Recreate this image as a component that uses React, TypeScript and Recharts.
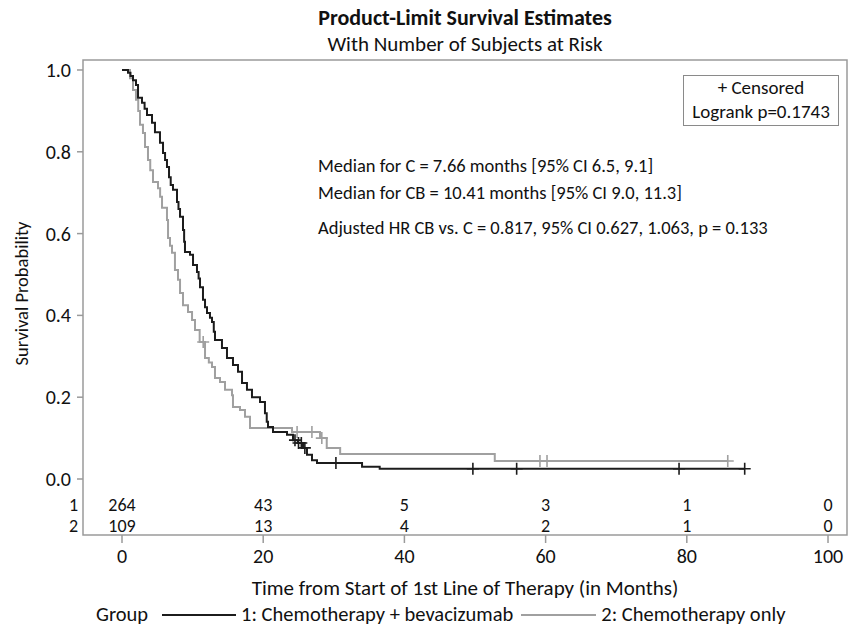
import React from 'react';
import { ComposedChart, Line, Scatter, XAxis, YAxis, ReferenceArea } from 'recharts';

const FONT = "Carlito, 'Liberation Sans Narrow', 'Open Sans', sans-serif";

// Group 1: Chemotherapy + bevacizumab (black)
const cbTimes = [0, 0.85, 1.2, 1.56, 1.98, 2.27, 2.83, 3.2, 3.54, 4.25, 4.67, 5.38, 5.81, 6.1, 6.37, 6.66, 6.9, 7.22, 7.79, 8.0, 8.22, 8.64, 8.8, 8.92, 9.63, 10.06, 10.62, 10.85, 11.05, 11.47, 11.76, 12.04, 12.46, 12.75, 13.0, 13.17, 14.16, 14.87, 15.72, 16.43, 17.0, 17.7, 18.41, 19.55, 20.25, 20.5, 20.68, 21.39, 23.37, 24.22, 24.93, 25.64, 26.2, 26.91, 27.62, 34.0, 36.5, 88.2];
const cbSurv = [1.0, 0.993, 0.985, 0.975, 0.963, 0.932, 0.92, 0.905, 0.89, 0.871, 0.848, 0.822, 0.797, 0.78, 0.763, 0.738, 0.719, 0.707, 0.677, 0.66, 0.641, 0.609, 0.58, 0.555, 0.548, 0.523, 0.506, 0.49, 0.469, 0.438, 0.42, 0.406, 0.394, 0.384, 0.36, 0.34, 0.32, 0.296, 0.279, 0.262, 0.235, 0.218, 0.2, 0.188, 0.161, 0.14, 0.127, 0.115, 0.108, 0.095, 0.088, 0.076, 0.059, 0.046, 0.039, 0.03, 0.025, 0.025];
const cbCensorTimes = [24.5, 25.0, 25.4, 25.9, 30.3, 49.7, 55.9, 78.9, 88.2];
const cbCensorSurv = [0.095, 0.088, 0.088, 0.076, 0.039, 0.025, 0.025, 0.025, 0.025];

// Group 2: Chemotherapy only (gray)
const cTimes = [0, 1.13, 1.56, 1.98, 2.3, 2.55, 2.97, 3.26, 3.68, 4.0, 4.39, 5.1, 5.4, 5.67, 6.37, 6.52, 6.8, 7.08, 7.5, 7.93, 8.22, 8.64, 9.35, 9.92, 10.34, 11.0, 11.76, 12.3, 12.75, 13.17, 13.88, 14.59, 15.58, 15.72, 16.71, 17.42, 18.13, 24.08, 28.05, 29.0, 30.9, 52.8, 85.8];
const cSurv = [1.0, 0.98, 0.951, 0.927, 0.9, 0.866, 0.846, 0.812, 0.78, 0.755, 0.726, 0.711, 0.69, 0.663, 0.633, 0.589, 0.57, 0.553, 0.511, 0.487, 0.455, 0.425, 0.408, 0.389, 0.364, 0.335, 0.296, 0.285, 0.274, 0.247, 0.237, 0.218, 0.205, 0.176, 0.169, 0.152, 0.125, 0.115, 0.1, 0.076, 0.061, 0.044, 0.044];
const cCensorTimes = [11.5, 24.8, 26.9, 28.3, 59.2, 60.2, 85.8];
const cCensorSurv = [0.335, 0.115, 0.115, 0.1, 0.044, 0.044, 0.044];

const riskTimes = [0, 20, 40, 60, 80, 100];
const riskCB = [264, 43, 5, 3, 1, 0];
const riskC = [109, 13, 4, 2, 1, 0];
const riskRowLabels = ['1', '2'];
const riskRowY = [-0.0636, -0.115];

const xTicks = [0, 20, 40, 60, 80, 100];
const yTicks = [0, 0.2, 0.4, 0.6, 0.8, 1.0];
const X_DOMAIN: [number, number] = [-5.524, 102.69];
const Y_DOMAIN: [number, number] = [-0.1369, 1.0244];

const seriesNames = ['1: Chemotherapy + bevacizumab', '2: Chemotherapy only'];
const seriesColors = ['#1c1c1c', '#a0a0a0'];

const annotations = [
  'Median for C = 7.66 months [95% CI 6.5, 9.1]',
  'Median for CB = 10.41 months [95% CI 9.0, 11.3]',
  'Adjusted HR CB vs. C = 0.817, 95% CI 0.627, 1.063, p = 0.133',
];

const toPts = (t: number[], s: number[]) => t.map((v, i) => ({ t: v, s: s[i] }));
const cbData = toPts(cbTimes, cbSurv);
const cData = toPts(cTimes, cSurv);
const cbCensor = toPts(cbCensorTimes, cbCensorSurv);
const cCensor = toPts(cCensorTimes, cCensorSurv);
const riskData = [
  ...riskTimes.map((t, i) => ({ t, s: riskRowY[0], label: String(riskCB[i]) })),
  ...riskTimes.map((t, i) => ({ t, s: riskRowY[1], label: String(riskC[i]) })),
];
const rowLabelData = riskRowLabels.map((l, i) => ({ t: X_DOMAIN[0], s: riskRowY[i], label: l }));

const plus = (color: string) => (p: any) => (
  <path
    d={`M${p.cx - 6},${p.cy}H${p.cx + 6}M${p.cx},${p.cy - 6}V${p.cy + 6}`}
    stroke={color}
    strokeWidth={1.6}
    fill="none"
  />
);

const riskText = (p: any) => (
  <text x={p.cx} y={p.cy} textAnchor="middle" dominantBaseline="central" fontSize={18} fontFamily={FONT} fill="#111">
    {p.payload.label}
  </text>
);

const rowText = (p: any) => (
  <text x={p.cx - 5} y={p.cy} textAnchor="end" dominantBaseline="central" fontSize={18} fontFamily={FONT} fill="#111">
    {p.payload.label}
  </text>
);

export default function App() {
  return (
    <div style={{ position: 'absolute', left: 0, top: 0, width: 855, height: 628, background: '#fff', fontFamily: FONT }}>
      <div style={{ position: 'absolute', left: 0, width: 930, top: 4, textAlign: 'center', fontSize: 22, lineHeight: '28px', fontWeight: 'bold', color: '#111' }}>
        Product-Limit Survival Estimates
      </div>
      <div style={{ position: 'absolute', left: 0, width: 930, top: 30, textAlign: 'center', fontSize: 21, lineHeight: '28px', color: '#111' }}>
        With Number of Subjects at Risk
      </div>
      <ComposedChart width={855} height={628} margin={{ top: 60, right: 8, bottom: 63, left: 0 }}>
        <XAxis
          type="number"
          dataKey="t"
          domain={X_DOMAIN}
          ticks={xTicks}
          height={30}
          axisLine={false}
          tickSize={8}
          tickMargin={6}
          tickLine={{ stroke: '#9a9a9a', strokeWidth: 1.5 }}
          tick={{ fontSize: 20, fill: '#111', fontFamily: FONT }}
          label={{ value: 'Time from Start of 1st Line of Therapy (in Months)', position: 'bottom', offset: 15, fontSize: 21, fill: '#111', fontFamily: FONT }}
        />
        <YAxis
          type="number"
          dataKey="s"
          domain={Y_DOMAIN}
          ticks={yTicks}
          width={83}
          axisLine={false}
          tickSize={6}
          tickMargin={6}
          tickFormatter={(v: number) => v.toFixed(1)}
          tickLine={{ stroke: '#9a9a9a', strokeWidth: 1.5 }}
          tick={{ fontSize: 20, fill: '#111', fontFamily: FONT }}
          label={{ value: 'Survival Probability', angle: -90, position: 'center', dx: -20, dy: -4, fontSize: 18.5, fill: '#111', fontFamily: FONT }}
        />
        <ReferenceArea
          x1={X_DOMAIN[0]}
          x2={X_DOMAIN[1]}
          y1={Y_DOMAIN[0]}
          y2={Y_DOMAIN[1]}
          fill="none"
          stroke="#9a9a9a"
          strokeWidth={1.5}
          ifOverflow="visible"
        />
        <Line data={cData} dataKey="s" type="stepAfter" stroke={seriesColors[1]} strokeWidth={2} dot={false} isAnimationActive={false} />
        <Line data={cbData} dataKey="s" type="stepAfter" stroke={seriesColors[0]} strokeWidth={2} dot={false} isAnimationActive={false} />
        <Scatter data={cCensor} dataKey="s" shape={plus(seriesColors[1])} isAnimationActive={false} />
        <Scatter data={cbCensor} dataKey="s" shape={plus(seriesColors[0])} isAnimationActive={false} />
        <Scatter data={riskData} dataKey="s" shape={riskText} isAnimationActive={false} />
        <Scatter data={rowLabelData} dataKey="s" shape={rowText} isAnimationActive={false} />
      </ComposedChart>
      <div style={{ position: 'absolute', left: 318, top: 152, fontSize: 18.5, color: '#111', lineHeight: '27px', whiteSpace: 'nowrap' }}>
        <div>{annotations[0]}</div>
        <div>{annotations[1]}</div>
        <div style={{ marginTop: 8 }}>{annotations[2]}</div>
      </div>
      <div style={{ position: 'absolute', left: 683, top: 75, width: 154, height: 49, border: '1px solid #8a8a8a', textAlign: 'center', fontSize: 19, lineHeight: '24px', color: '#111', whiteSpace: 'nowrap' }}>
        <div>+ Censored</div>
        <div>Logrank p=0.1743</div>
      </div>
      <div style={{ position: 'absolute', left: 96, top: 602, height: 25, display: 'flex', alignItems: 'center', fontSize: 20.5, lineHeight: '25px', color: '#111', whiteSpace: 'nowrap' }}>
        <span style={{ marginRight: 14 }}>Group</span>
        {seriesNames.map((n, i) => (
          <span key={n} style={{ display: 'flex', alignItems: 'center', marginRight: 8 }}>
            <span style={{ display: 'inline-block', width: i === 0 ? 74 : 75, borderTop: `2px solid ${seriesColors[i]}`, marginRight: 5 }} />
            <span>{n}</span>
          </span>
        ))}
      </div>
    </div>
  );
}
